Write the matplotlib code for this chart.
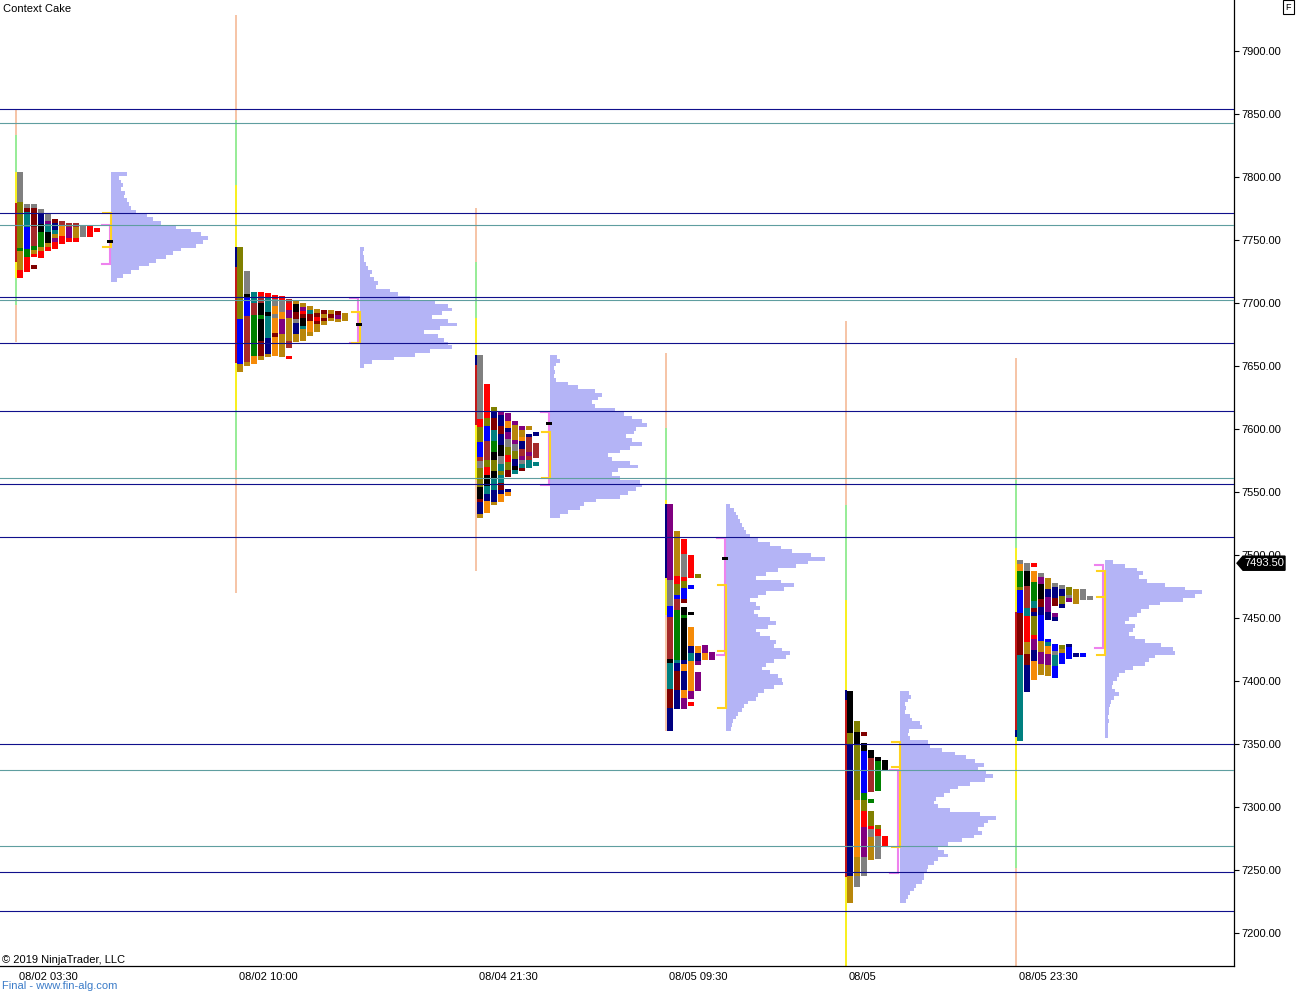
import itertools
import matplotlib
matplotlib.use("Agg")
import matplotlib.pyplot as plt
from matplotlib.patches import Polygon

plt.rcParams['font.family'] = ['Liberation Sans', 'DejaVu Sans']

# --- Chart data (prices) ---
Y_TICKS = [7200, 7250, 7300, 7350, 7400, 7450, 7500, 7550, 7600, 7650, 7700, 7750, 7800, 7850, 7900]
X_LABELS = ["08/02 03:30", "08/02 10:00", "08/04 21:30", "08/05 09:30", "08/05", "08/05 23:30"]

LEVELS_NAVY = [7854, 7771.4, 7704.8, 7668.3, 7614.3, 7556.3, 7514.3, 7350, 7248.4, 7217.5]
LEVELS_TEAL = [7842.9, 7761.9, 7702.4, 7561.1, 7329.4, 7269]

CURRENT_PRICE = 7493.50

# session range lines: price edges (top -> bottom) and colour codes per segment
S1_RANGE = [7853.2, 7833.3, 7804, 7779.4, 7732.5, 7719.8, 7698.4, 7669]
S1_RANGE_COL = "PLYRYLP"
S2_RANGE = [7928.6, 7845.2, 7793.6, 7744.4, 7728.6, 7652.4, 7615.1, 7567.5, 7469.8]
S2_RANGE_COL = "PLYNRYLP"
S3_RANGE = [7775.4, 7732.5, 7688.1, 7658.7, 7650.8, 7603.2, 7559.5, 7487.3]
S3_RANGE_COL = "PLYNRYP"
S4_RANGE = [7660.3, 7600.8, 7543.6, 7540.5, 7481.7, 7452.4, 7360.3]
S4_RANGE_COL = "PLYNYP"
S5_RANGE = [7685.7, 7539.6, 7464.3, 7392.8, 7384.9, 7244.4, 7173.8]
S5_RANGE_COL = "PLYNRY"
S6_RANGE = [7656.3, 7559.5, 7505.5, 7454.7, 7361.1, 7355.5, 7305.5, 7251.5, 7173.8]
S6_RANGE_COL = "PLYRNYLP"

# TPO columns: top price of each column, one letter per 3 points ('.' = empty)
S1_TPO_TOP = [7804, 7778.6, 7778.2, 7774.6, 7771.4, 7766.7, 7765, 7763.5, 7763.5, 7761, 7761, 7759.5]
S1_TPO = [
    "ggggggggooooooooooooGdddddrr",
    "gmttttbbbbbbGGrrrr",
    "gmmmmmMMMMMGdr..m",
    "gnnnkkGGGGdrr",
    "ggpttkkkdr",
    "mnntdprr",
    "MOOOrr",
    "Mpppr",
    "Mdddr",
    "ggg",
    "rrr",
    "r",
]

S2_TPO_TOP = [7744.4, 7725.4, 7708.7, 7708.7, 7707.9, 7706.3, 7705.2, 7703.2,
              7702.1, 7700, 7697.6, 7695, 7694.4, 7694.4, 7693.6, 7692]
S2_TPO = [
    "ooooooooooooooooooo" "bbbbbbbbbbbb" "dd",
    "gggggg" "k" "bbbbb" "MMMMMMMMMMMM" "d",
    "tttMMMGGGGGGGGGGGOO",
    "rMMkkkGkkkkkkmmmmd",
    "rttttkttttttnnnnd",
    "rggOOgOOOOmOOOOO",
    "rgggOOppppdddddd",
    "MrrppddddddMM..r",
    "dkkmmgnnndd",
    "dprmkktddd",
    "dtmmOOOd",
    "dmrmdd",
    "mdmd",
    "dmd",
    "mpd",
    "dd",
]

S3_TPO_TOP = [7658.7, 7635.7, 7617.4, 7614.3, 7612.7, 7606.3, 7602.4, 7602.4, 7597.6]
S3_TPO = [
    "ggggggggggggggggg" "rr" "oooo" "bbbb" "M" "gg" "ooooo" "kkk" "m" "nnn" "d",
    "rrrrrrrrr" "oo" "bbbb" "MMMMM" "oo" "rr" "kkk" "tt" "nn" "OOO",
    "onnmmmtttGGGkkoookktttnnnd",
    "pnnnmmnnnkkkggttottmmnOO",
    "ppOOnppggoorroomm...nO",
    "pddddpggoonnkt",
    "pddOnnMMpgtm",
    "d.nMMMMpMtt",
    "n..MMMM.t",
]

S4_TPO_TOP = [7540.5, 7519, 7512.7, 7500, 7484.9, 7428.5, 7423]
S4_TPO = [
    "pppppppppppppppppppp" "ggggggg" "bbb" "MMMMMMMMMMM" "k" "ttttttt" "mmmmm" "nnnnnn",
    "dddddddddddd" "rr" "ooo" "b" "MMM" "GGGGGGGGGGGGG" "t" "nn" "mmmmm" "nnnnn",
    "rrrr" "gggggg" "r" "oo" "bbb" "m" "." "kk" "G" "kkkkkkkkkkk" "n" "OO" "nnnnn" "OO" "ppp",
    "rrrrrr" ".." "b" "......" "k" "..." "OOOOO" "nn" "tt" "OOOOOOOO" "pp" "." "r",
    "o" ".................." "OOnnp..ppppp",
    "ppOO",
    "pp",
]

S5_TPO_TOP = [7392, 7368.3, 7359.5, 7345.2, 7339.6, 7337.3]
S5_TPO = [
    "kkkkkkkkkkk" "ooo" "nnnnnnnnnnnnnnnnnnnnnnnnnnnnnnnnnnn" "ddddddd",
    "ooo" "kkk" "ooooooooooooooo" "OOOOOOOOOOOOOOO" "ddddd" "ggg",
    "m.." "kk" "bbbbbbbbbbb" "GG" "ooo" "rrrr" "pppppppp" "ggggg",
    "kk" "MMMMMMMMM" ".." "G" ".." "oooo" "r" "gg" "dddddd",
    "k" "GGGGGGGG" "........." "o" "rr" "gggggg",
    "kkk" "................." "rrr",
]

S6_TPO_TOP = [7496, 7493.6, 7493.6, 7485.7, 7481.7, 7477.7, 7476.2, 7474.6, 7473, 7473, 7467.4]
S6_TPO = [
    "g" "OO" "GGGG" "o" "bbbbbb" "mmmmmmmmmmm" "ttttttttttttttttttttttt",
    "gg" "kkkk" "MMMMMM" "tt" "rrrrrrr" "ddd" "mmm" "nnnnnnn",
    "r." "OOO" "GGGGG" "tt" "m" "n" "ooooo" "r" "ppp" "nnn" "OOOOO",
    "g" "pp" "kkkk" "mm" "nn" "bbbbbbb" "ddd" "ppp" "ddd",
    "ddd" "nn" "pppp" "nn" "....." "b" "t" "OO" "ppp" "ddd",
    "gnnnmm..pn......bbgtttbbb",
    "gnnoon" ".........." "odbbb",
    "oogp" "..........." "nbbb",
    "dddd" "............." "n",
    "ggg" ".............." "b",
    "g",
]

# volume profiles: top price and row lengths (3-point rows, top -> bottom)
S1_VOL_TOP = 7804
S1_VOL = [16, 8, 10, 12, 10, 14, 13, 16, 18, 20, 25, 36, 42, 50, 65, 80, 90, 97, 92, 85,
          70, 62, 55, 45, 38, 28, 20, 12, 6]
S2_VOL_TOP = 7744.4
S2_VOL = [4, 3, 4, 4, 6, 8, 12, 10, 14, 18, 16, 30, 38, 50, 75, 88, 92, 82, 72, 88,
          97, 80, 64, 78, 84, 88, 92, 70, 55, 34, 12, 4]
S3_VOL_TOP = 7658.7
S3_VOL = [7, 10, 6, 4, 5, 4, 6, 18, 28, 45, 52, 48, 42, 45, 65, 74, 82, 92, 97, 86,
          84, 76, 82, 92, 80, 70, 58, 62, 80, 88, 68, 62, 70, 90, 92, 86, 78, 70, 46, 34,
          30, 18, 10]
S4_VOL_TOP = 7540.5
S4_VOL = [4, 8, 10, 12, 14, 16, 18, 20, 24, 32, 44, 55, 66, 85, 99, 82, 70, 52, 40, 30,
          55, 68, 58, 40, 32, 24, 30, 34, 28, 32, 44, 50, 42, 30, 34, 44, 50, 48, 56, 64,
          60, 48, 40, 36, 44, 52, 56, 57, 48, 38, 32, 30, 22, 18, 16, 12, 10, 7, 6, 5]
S5_VOL_TOP = 7392
S5_VOL = [9, 11, 8, 5, 6, 5, 10, 12, 20, 22, 9, 8, 10, 28, 30, 42, 55, 66, 75, 84,
          78, 86, 93, 85, 70, 58, 50, 44, 36, 34, 38, 50, 80, 96, 88, 84, 78, 82, 74, 62,
          48, 38, 44, 48, 38, 34, 28, 27, 24, 24, 22, 16, 14, 10, 8, 6]
S6_VOL_TOP = 7496
S6_VOL = [8, 20, 32, 38, 34, 42, 60, 80, 97, 90, 78, 55, 44, 36, 32, 24, 20, 30, 28, 24,
          30, 40, 56, 68, 70, 50, 44, 40, 28, 20, 14, 12, 8, 7, 10, 14, 9, 6, 5, 4,
          4, 3, 4, 3, 3, 3, 3]

# value areas (top, bottom), extra yellow tick, point of control
VA_YELLOW = [(7771.7, 7744.4), (7693, 7668.2), (7597.8, 7561.1), (7476.2, 7378.5), (7351.8, 7268.5), (7487.3, 7420.6)]
VA_PINK = [(7761.9, 7731), (7703.9, 7668.2), (7613.7, 7555.5), (7513.5, 7420.6), (7329.3, 7247.8), (7492, 7426.2)]
YELLOW_MID = [None, None, None, 7424, 7332, 7466.9]
POC = [7749.2, 7682.9, 7604.5, 7497.2, None, None]

# --- layout / style ---
SESSION_X = [16, 236, 476, 666, 846, 1016]
PROFILE_X = [111, 359.5, 550, 726, 899.5, 1104.5]
ROW = 3.0
PALETTE = {
    'g': '#808080', 'o': '#808000', 'd': '#B8860B', 'r': '#FF0000', 'b': '#0000FF',
    'n': '#000080', 'k': '#000000', 'G': '#008000', 'm': '#800000', 'M': '#A52A2A',
    't': '#008080', 'p': '#800080', 'O': '#F58A07',
}
RANGE_PAL = {'P': '#F6C5A8', 'L': '#98EC98', 'Y': '#F8F020', 'R': '#C41818', 'N': '#000080'}
VOL_COLOR = '#B4B4F6'
YELLOW = '#FFD21F'
PINK = '#EE82EE'
NAVY = '#10108C'
TEAL = '#5F9EA0'

fig = plt.figure(figsize=(12.96, 9.93), dpi=100)
ax = fig.add_axes([0, 27 / 993, 1234 / 1296, 966 / 993])
ax.set_xlim(0, 1234)
ax.set_ylim(7173.8, 7940.5)

sessions = [
    (S1_RANGE, S1_RANGE_COL, S1_TPO_TOP, S1_TPO, S1_VOL_TOP, S1_VOL),
    (S2_RANGE, S2_RANGE_COL, S2_TPO_TOP, S2_TPO, S2_VOL_TOP, S2_VOL),
    (S3_RANGE, S3_RANGE_COL, S3_TPO_TOP, S3_TPO, S3_VOL_TOP, S3_VOL),
    (S4_RANGE, S4_RANGE_COL, S4_TPO_TOP, S4_TPO, S4_VOL_TOP, S4_VOL),
    (S5_RANGE, S5_RANGE_COL, S5_TPO_TOP, S5_TPO, S5_VOL_TOP, S5_VOL),
    (S6_RANGE, S6_RANGE_COL, S6_TPO_TOP, S6_TPO, S6_VOL_TOP, S6_VOL),
]

for k, (edges, rcols, tops, cols, vtop, vol) in enumerate(sessions):
    sx = SESSION_X[k]
    px = PROFILE_X[k]

    # range line
    for i, c in enumerate(rcols):
        ax.bar(sx, edges[i] - edges[i + 1], bottom=edges[i + 1], width=2,
               color=RANGE_PAL[c], linewidth=0, zorder=1)

    # TPO columns (merge runs of the same letter)
    xs, bots, hs, cs = [], [], [], []
    for j, (top, s) in enumerate(zip(tops, cols)):
        n = 0
        for ch, grp in itertools.groupby(s):
            cnt = len(list(grp))
            if ch != '.':
                xs.append(sx + 0.7 + 7 * j)
                bots.append(top - (n + cnt) * ROW)
                hs.append(cnt * ROW)
                cs.append(PALETTE[ch])
            n += cnt
    ax.bar(xs, hs, bottom=bots, width=6, align='edge', color=cs,
           linewidth=0, antialiased=False, zorder=2)

    # volume profile
    ys = [vtop - (i + 1) * ROW for i in range(len(vol))]
    ax.barh(ys, vol, height=ROW, left=px, align='edge', color=VOL_COLOR,
            linewidth=0, antialiased=False, zorder=1)

    # value area brackets
    for (top, bot), color, x in ((VA_PINK[k], PINK, px - 1.5), (VA_YELLOW[k], YELLOW, px)):
        ax.plot([x - 8, x, x, x - 8], [top, top, bot, bot], color=color, lw=1.5,
                solid_joinstyle='miter', zorder=3)
    if YELLOW_MID[k] is not None:
        ax.plot([px - 8, px], [YELLOW_MID[k], YELLOW_MID[k]], color=YELLOW, lw=1.5, zorder=3)
    if POC[k] is not None:
        ax.bar(px - 4, 2.4, bottom=POC[k] - 1.2, width=6, align='edge',
               color='black', linewidth=0, zorder=5)

for lv in LEVELS_NAVY:
    ax.axhline(lv, color=NAVY, lw=0.8, zorder=4)
for lv in LEVELS_TEAL:
    ax.axhline(lv, color=TEAL, lw=0.8, zorder=4)

# axes styling
for s in ['left', 'top']:
    ax.spines[s].set_visible(False)
for s in ['right', 'bottom']:
    ax.spines[s].set_linewidth(0.9)
ax.yaxis.tick_right()
ax.set_yticks(Y_TICKS)
ax.set_yticklabels([f"{v:.2f}" for v in Y_TICKS])
ax.tick_params(axis='y', direction='out', length=3.6, width=0.8, pad=1.5, labelsize=8)
ax.set_xticks([sx + 3 for sx in SESSION_X])
ax.set_xticklabels(X_LABELS, ha='left')
ax.tick_params(axis='x', length=0, pad=4, labelsize=8)

# current price tag
p = CURRENT_PRICE
tag = Polygon([(1237, p), (1243, p + 5.6), (1285, p + 5.6), (1285, p - 5.6), (1243, p - 5.6)],
              closed=True, facecolor='black', edgecolor='black', clip_on=False, zorder=10)
ax.add_patch(tag)
ax.text(1244, p, f"{p:.2f}", color='white', fontsize=8, va='center', ha='left',
        clip_on=False, zorder=11)

fig.text(3 / 1296, 1 - 9 / 993, "Context Cake", fontsize=8, va='center')
fig.text(2 / 1296, 1 - 960 / 993, "\u00a9 2019 NinjaTrader, LLC", fontsize=8, va='center')
fig.text(2 / 1296, 1 - 986 / 993, "Final - www.fin-alg.com", fontsize=8, va='center', color='#3A7BC8')
fig.text(1288.5 / 1296, 1 - 7 / 993, "F", fontsize=6.5, ha='center', va='center',
         bbox=dict(boxstyle='square,pad=0.25', fc='white', ec='black', lw=0.8))

fig.savefig("out.png", dpi=100)
